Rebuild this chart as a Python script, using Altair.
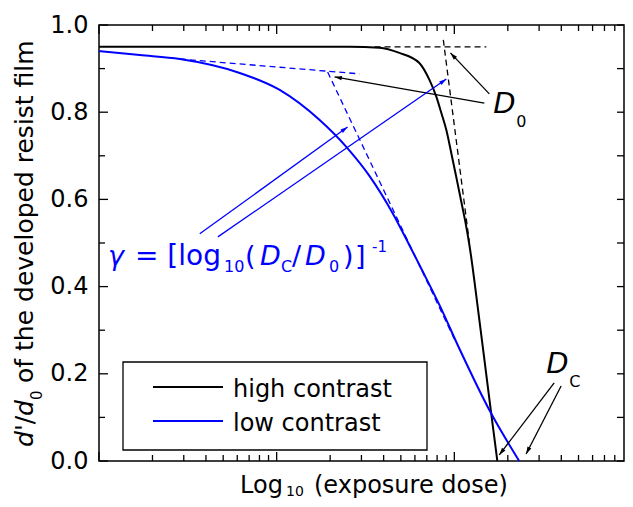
import math
import altair as alt
import pandas as pd

# ---------------- data ----------------
# x: log10(exposure dose), y: d'/d0 (normalised remaining thickness)
hc_logdose = [0.000, 1.129, 1.410, 1.579, 1.691, 1.803, 1.860, 1.899, 1.927, 1.955,
              1.983, 2.011, 2.045, 2.066, 2.083, 2.101, 2.117, 2.205, 2.242]
hc_thick = [0.950, 0.950, 0.950, 0.948, 0.936, 0.913, 0.874, 0.835, 0.798, 0.759,
            0.706, 0.651, 0.583, 0.540, 0.500, 0.450, 0.400, 0.117, 0.000]

lc_logdose = [0.000, 0.230, 0.455, 0.792, 1.017, 1.242, 1.393, 1.522, 1.652, 1.747,
              1.803, 1.916, 2.028, 2.197, 2.365]
lc_thick = [0.940, 0.931, 0.922, 0.890, 0.851, 0.782, 0.720, 0.654, 0.569, 0.495,
            0.450, 0.358, 0.258, 0.117, 0.000]

series_names = ["high contrast", "low contrast"]

# dashed tangent constructions: [start, end] of each segment
hc_tan_logdose = [[1.551, 2.180], [1.938, 2.084]]
hc_tan_thick = [[0.950, 0.950], [0.966, 0.503]]
lc_tan_logdose = [[0.455, 1.466], [1.287, 2.000]]
lc_tan_thick = [[0.922, 0.888], [0.892, 0.280]]

# annotation arrows (tail -> head), in data units
arrow_tail_logdose = [2.197, 2.169, 2.562, 2.601, 0.567, 0.669]
arrow_tail_thick = [0.842, 0.821, 0.179, 0.172, 0.521, 0.514]
arrow_head_logdose = [1.978, 1.326, 2.253, 2.404, 1.399, 1.955]
arrow_head_thick = [0.936, 0.881, 0.014, 0.016, 0.766, 0.876]
arrow_series = ["high contrast"] * 4 + ["low contrast"] * 2

# axis ticks
y_major = [0.0, 0.2, 0.4, 0.6, 0.8, 1.0]
y_minor = [0.1, 0.3, 0.5, 0.7, 0.9]
x_major = [0, 1, 2, 3]
x_minor = [n + math.log10(k) for n in range(3) for k in range(2, 10)]

# texts
formula_parts = ["γ", "= [log", "10", "(", "D", "C", "/", "D", "0", ")", "]", "-1"]
d0_parts = ["D", "0"]
dc_parts = ["D", "C"]
ytitle_parts = ["d", "'/", "d", "0", "of the developed resist film"]
xtitle_parts = ["Log", "10", "(exposure dose)"]

# ---------------- style ----------------
XRANGE = 533          # pixel length of the 3 decades
W, H = 525, 436       # visible frame (page is narrower than the full figure)
FONT = "DejaVu Sans"
BLUE = "#0000ff"
COLORS = {"high contrast": "black", "low contrast": BLUE}

xs = alt.Scale(domain=[0, 3], range=[0, XRANGE], nice=False, zero=False)
ys = alt.Scale(domain=[0, 1], nice=False, zero=False)
yax = alt.Axis(values=y_major, format=".1f", ticks=False, tickSize=0, domain=False,
               grid=False, title=None, labelFontSize=24, labelFont=FONT,
               labelColor="black", labelPadding=11)


def xq(f):
    return alt.X(f"{f}:Q", scale=xs, axis=None)


def yq(f):
    return alt.Y(f"{f}:Q", scale=ys, axis=yax)


layers = []

# ---- curves ----
curves = pd.DataFrame({
    "logdose": hc_logdose + lc_logdose,
    "thick": hc_thick + lc_thick,
    "series": [series_names[0]] * len(hc_logdose) + [series_names[1]] * len(lc_logdose),
    "i": list(range(len(hc_logdose))) + list(range(len(lc_logdose))),
})
layers.append(
    alt.Chart(curves).mark_line(strokeWidth=2, interpolate="monotone").encode(
        x=xq("logdose"), y=yq("thick"),
        color=alt.Color("series:N", scale=alt.Scale(domain=series_names,
                                                    range=["black", BLUE]), legend=None),
        detail="series:N", order="i:Q")
)

# ---- dashed tangents ----
rows = []
for s, (xl, yl) in zip(series_names, [(hc_tan_logdose, hc_tan_thick), (lc_tan_logdose, lc_tan_thick)]):
    for k, (xx, yy) in enumerate(zip(xl, yl)):
        for j in range(2):
            rows.append({"seg": f"{s}-{k}", "logdose": xx[j], "thick": yy[j],
                         "col": COLORS[s], "j": j})
tan = pd.DataFrame(rows)
layers.append(
    alt.Chart(tan).mark_line(strokeWidth=1.3, strokeDash=[6, 4]).encode(
        x=xq("logdose"), y=yq("thick"), detail="seg:N", order="j:Q",
        color=alt.Color("col:N", scale=None))
)

# ---- arrows ----
arr = pd.DataFrame({
    "x": arrow_tail_logdose, "y": arrow_tail_thick,
    "x2": arrow_head_logdose, "y2": arrow_head_thick,
    "col": [COLORS[s] for s in arrow_series],
})
sx, sy = XRANGE / 3.0, H / 1.0
arr["angle"] = [
    (math.degrees(math.atan2((hx - tx) * sx, (hy - ty) * sy)) + 360) % 360
    for tx, ty, hx, hy in zip(arr.x, arr.y, arr.x2, arr.y2)
]
layers.append(
    alt.Chart(arr).mark_rule(strokeWidth=1.3).encode(
        x=xq("x"), y=yq("y"), x2="x2:Q", y2="y2:Q",
        color=alt.Color("col:N", scale=None))
)
layers.append(
    alt.Chart(arr).mark_point(shape="M0,0L-0.3,1L0.3,1Z", filled=True, size=210,
                              opacity=1).encode(
        x=xq("x2"), y=yq("y2"), angle=alt.Angle("angle:Q", scale=None),
        color=alt.Color("col:N", scale=None))
)

# ---- ticks (inward) ----
MAJ, MIN = 9, 6
for vals, ln in [(y_major, MAJ), (y_minor, MIN)]:
    d = pd.DataFrame({"v": vals})
    layers.append(alt.Chart(d).mark_rule(color="black", strokeWidth=1.3).encode(
        y=yq("v"), x=alt.value(0), x2=alt.value(ln)))
    layers.append(alt.Chart(d).mark_rule(color="black", strokeWidth=1.3).encode(
        y=yq("v"), x=alt.value(W), x2=alt.value(W - 7)))
for vals, ln in [(x_major, MAJ), (x_minor, MIN)]:
    d = pd.DataFrame({"v": [v for v in vals if v * XRANGE / 3.0 < W - 1]})
    layers.append(alt.Chart(d).mark_rule(color="black", strokeWidth=1.3).encode(
        x=xq("v"), y=alt.value(H), y2=alt.value(H - ln)))
    layers.append(alt.Chart(d).mark_rule(color="black", strokeWidth=1.3).encode(
        x=xq("v"), y=alt.value(0), y2=alt.value(ln)))


# ---- text helper ----
def piece(text, dx=0, dy=0, size=24, italic=False, color="black", angle=0,
          anchor=None, px=None):
    if anchor is not None:
        d = pd.DataFrame({"t": [text], "x": [anchor[0]], "y": [anchor[1]]})
        enc = dict(x=xq("x"), y=yq("y"), text="t:N")
    else:
        d = pd.DataFrame({"t": [text]})
        enc = dict(x=alt.value(px[0]), y=alt.value(px[1]), text="t:N")
    return alt.Chart(d).mark_text(
        align="left", baseline="alphabetic", dx=dx, dy=dy, fontSize=size,
        fontStyle="italic" if italic else "normal", font=FONT, color=color,
        angle=angle).encode(**enc)


# gamma formula (anchor in data units)
f_anchor = (0.0506, 0.4495)
f_dx = [0, 27, 116, 137, 152, 173, 184, 197, 221, 235, 247, 264]
f_dy = [0, 0, 7, 0, 0, 7, 0, 0, 7, 0, 0, -13]
f_size = [27, 28, 16, 27, 27, 16, 27, 27, 16, 27, 27, 15]
f_it = [True, False, False, False, True, False, False, True, False, False, False, False]
for t, dx, dy, sz, it in zip(formula_parts, f_dx, f_dy, f_size, f_it):
    layers.append(piece(t, dx, dy, sz, it, BLUE, anchor=f_anchor))

# D0 and DC labels
for parts, anc in [(d0_parts, (2.219, 0.798)), (dc_parts, (2.517, 0.2018))]:
    layers.append(piece(parts[0], 0, 0, 29, True, anchor=anc))
    layers.append(piece(parts[1], 23, 14, 16, False, anchor=anc))

# y title (rotated)
yt_dx = [0, 16, 31, 47, 64]
yt_dy = [0, 0, 0, 9, 0]
yt_size = [25, 25, 25, 15, 25]
yt_it = [True, False, True, False, False]
for t, dx, dy, sz, it in zip(ytitle_parts, yt_dx, yt_dy, yt_size, yt_it):
    layers.append(piece(t, dx, dy, sz, it, angle=270, px=(-66, 422)))

# x title
xt_dx = [0, 46, 74]
xt_dy = [0, 3, 0]
xt_size = [24, 14, 24]
for t, dx, dy, sz in zip(xtitle_parts, xt_dx, xt_dy, xt_size):
    layers.append(piece(t, dx, dy, sz, px=(141, 468)))

# ---- legend ----
layers.append(alt.Chart(pd.DataFrame({"a": [0]})).mark_rect(
    fill="white", stroke="black", strokeWidth=1.3).encode(
    x=alt.value(24), x2=alt.value(328), y=alt.value(337), y2=alt.value(425)))
for k, s in enumerate(series_names):
    yy = 362 + 34 * k
    layers.append(alt.Chart(pd.DataFrame({"a": [0]})).mark_rule(
        color=COLORS[s], strokeWidth=2).encode(
        x=alt.value(54), x2=alt.value(124), y=alt.value(yy)))
    layers.append(piece(s, 0, 0, 24, px=(134, yy + 10)))

chart = alt.layer(*layers).properties(
    width=W, height=H,
    autosize=alt.AutoSizeParams(type="none"),
    padding={"left": 91, "top": 17, "right": 1, "bottom": 38},
).configure_view(stroke="black", strokeWidth=1.5)

chart.save("out.html", embed_options={"renderer": "svg", "actions": False})
